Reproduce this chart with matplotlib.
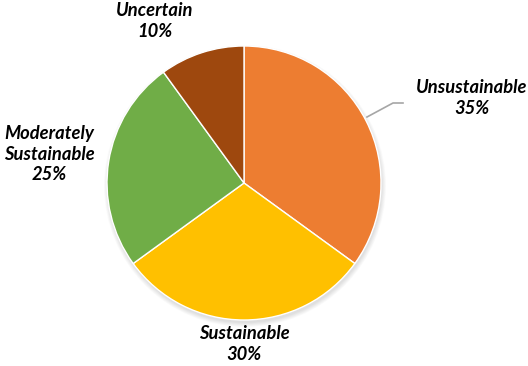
import matplotlib
matplotlib.use('Agg')
import matplotlib.pyplot as plt
from matplotlib.patches import Circle

# Share of assessed items by sustainability category
categories = ['Unsustainable', 'Sustainable', 'Moderately\nSustainable', 'Uncertain']
shares = [35, 30, 25, 10]
colors = ['#ED7D31', '#FFC000', '#70AD47', '#9E480E']

W, H = 528, 366
fig = plt.figure(figsize=(W / 100, H / 100), dpi=100)
ax = fig.add_axes([0, 0, 1, 1])

cx, cy, r = 244, 183, 137

# soft drop shadow under the pie
for k in range(8):
    ax.add_patch(Circle((cx + 1, cy - 3), r + 4 - k * 0.6, color='black',
                        alpha=0.015, lw=0, zorder=0))

ax.pie(shares, colors=colors, startangle=90, counterclock=False,
       center=(cx, cy), radius=r, frame=True,
       wedgeprops=dict(edgecolor='white', linewidth=1.0))
ax.set_xlim(0, W)
ax.set_ylim(0, H)
ax.axis('off')

font = dict(family='Lato', fontweight='bold', fontstyle='italic',
            fontsize=13.2, color='black', ha='center', va='center',
            linespacing=1.27)

label_pos = [(472, 268), (244, 22), (49, 212), (155, 345)]
for name, val, (x, y) in zip(categories, shares, label_pos):
    ax.text(x, y, '{}\n{}%'.format(name, val), **font)

# leader line for the Unsustainable label
ax.plot([367, 393, 403], [H - 117, H - 103, H - 103], color='#A6A6A6', lw=1.2)

fig.savefig('out.png', dpi=100)
